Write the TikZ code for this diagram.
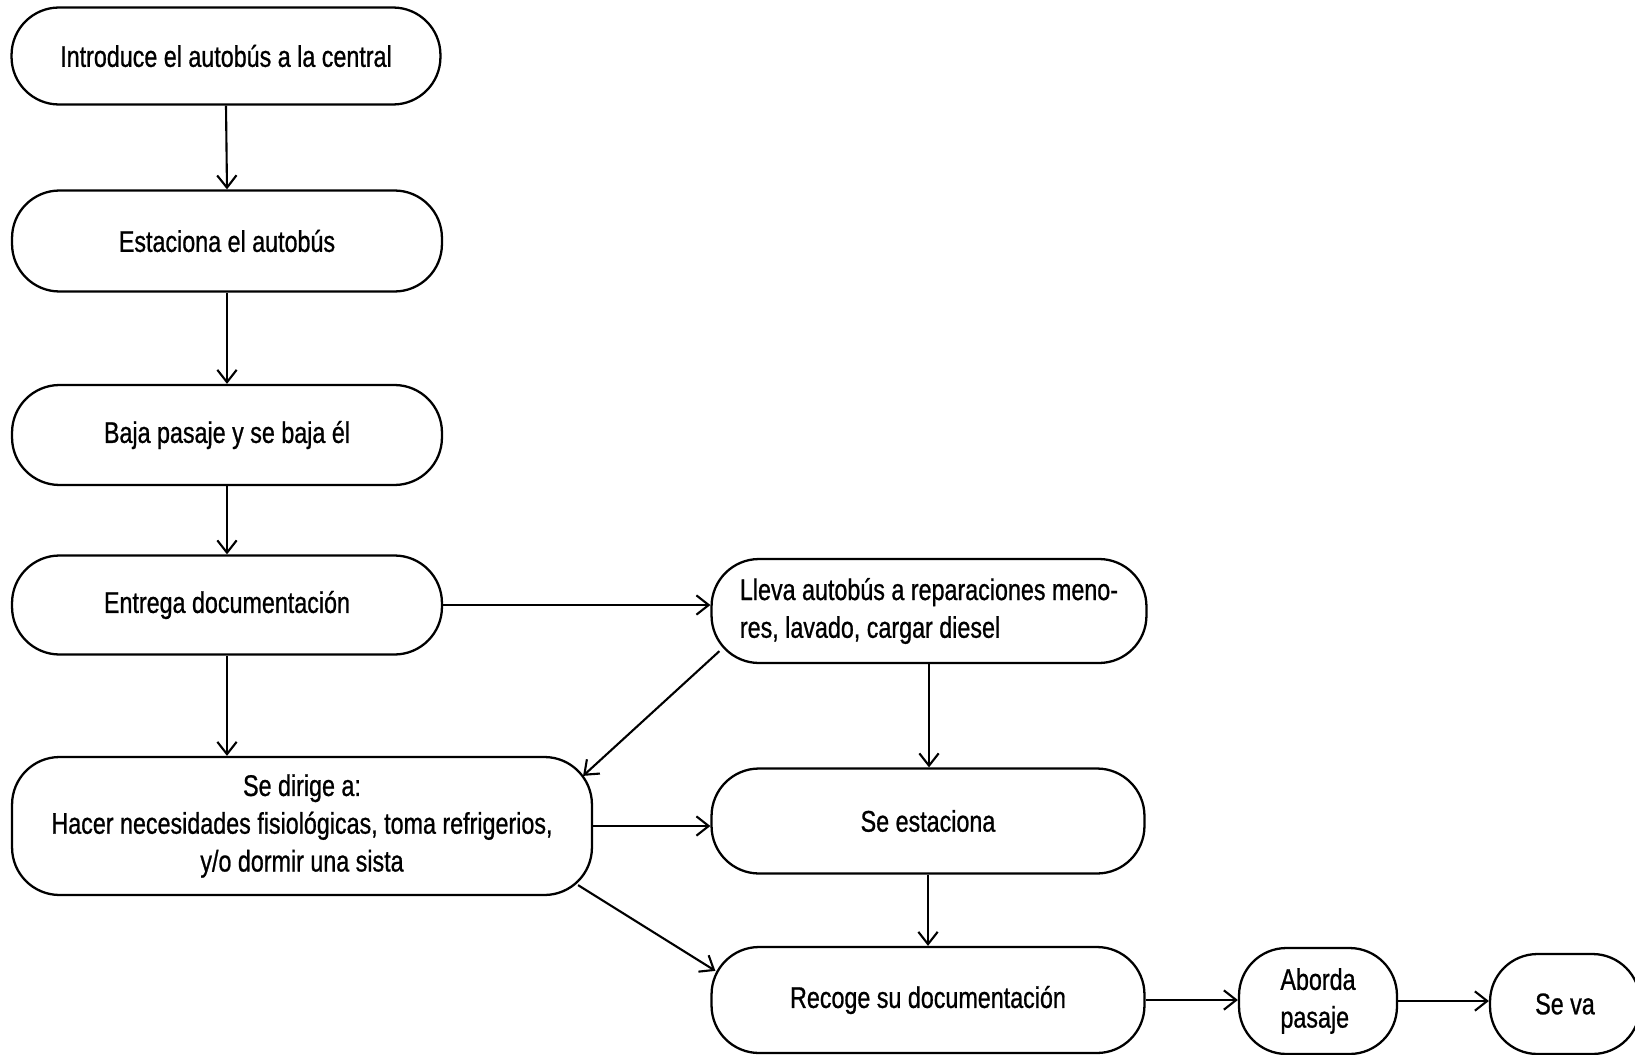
\documentclass[tikz,border=0pt]{standalone}
\usepackage{fontspec}
\setmainfont{Liberation Sans}[FakeStretch=0.78, FakeBold=0.8]
\usetikzlibrary{arrows.meta, positioning, calc}

\tikzset{
    paso/.style={draw, line width=1.3pt, rounded corners=0.95cm, align=center,
        inner sep=0pt, font=\fontsize{17}{21.5}\selectfont},
    flecha/.style={line width=1.2pt, -{Straight Barb[length=7pt, width=11pt]}}
}

\begin{document}
\begin{tikzpicture}[x=0.02cm, y=-0.02cm]

    \useasboundingbox (0,0) rectangle (1635,1054);

    % columna izquierda
    \node[paso, minimum width=8.58cm, minimum height=1.94cm] (intro) at (226,56)
        {Introduce el autobús a la central};
    \node[paso, minimum width=8.6cm, minimum height=2.02cm] (estaciona) at (227,241)
        {Estaciona el autobús};
    \node[paso, minimum width=8.6cm, minimum height=2cm] (baja) at (227,435)
        {Baja pasaje y se baja él};
    \node[paso, minimum width=8.6cm, minimum height=1.98cm] (entrega) at (227,605)
        {Entrega documentación};
    \node[paso, minimum width=11.6cm, minimum height=2.76cm] (dirige) at (302,826)
        {Se dirige a:\\ Hacer necesidades fisiológicas, toma refrigerios,\\ y/o dormir una sista};

    % columna derecha
    \node[paso, align=left, minimum width=8.7cm, minimum height=2.08cm] (lleva) at (929,611)
        {Lleva autobús a reparaciones meno-\\res, lavado, cargar diesel};
    \node[paso, minimum width=8.66cm, minimum height=2.1cm] (seestac) at (928,821)
        {Se estaciona};
    \node[paso, minimum width=8.66cm, minimum height=2.12cm] (recoge) at (928,1000)
        {Recoge su documentación};
    \node[paso, align=left, minimum width=3.16cm, minimum height=2.12cm] (aborda) at (1318,1001)
        {Aborda\\pasaje};
    \node[paso, minimum width=3cm, minimum height=2cm] (seva) at (1565,1004)
        {Se va};

    % flechas
    \foreach \a/\b in {intro/estaciona, estaciona/baja, baja/entrega}
        \draw[flecha] (\a.south) -- (\b.north);

    \draw[flecha] (entrega.south) -- (entrega.south |- dirige.north);
    \draw[flecha] (entrega.east) -- (entrega.east -| lleva.west);
    \draw[flecha] ([shift={(9,-13)}]lleva.south west) -- ([shift={(-10,20)}]dirige.north east);
    \draw[flecha] (dirige.east) -- (dirige.east -| seestac.west);
    \draw[flecha] ([shift={(-15,-11)}]dirige.south east) -- ([shift={(5,25)}]recoge.north west);
    \draw[flecha] (lleva.south) -- (lleva.south |- seestac.north);
    \draw[flecha] (seestac.south) -- (seestac.south |- recoge.north);
    \draw[flecha] (recoge.east) -- (recoge.east -| aborda.west);
    \draw[flecha] (aborda.east) -- (aborda.east -| seva.west);

\end{tikzpicture}
\end{document}
